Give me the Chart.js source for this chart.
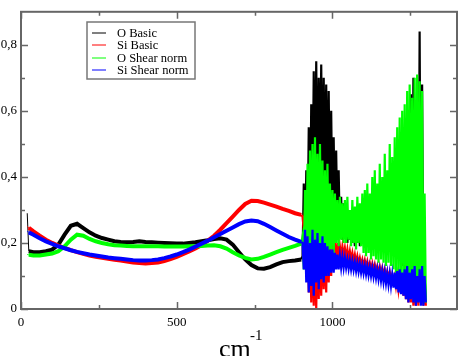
<!DOCTYPE html>
<html>
<head>
<meta charset="utf-8">
<script src="https://cdn.jsdelivr.net/npm/chart.js@4.4.0/dist/chart.umd.min.js"></script>
<style>
html, body { margin: 0; padding: 0; background: #fff; }
#wrap { width: 463px; height: 356px; }
</style>
</head>
<body>
<div id="wrap"><canvas id="spectrum" width="463" height="356"></canvas></div>
<script>
// ===== data =====
// smooth part, 20..900 cm-1
const smoothX = [20, 25, 40, 60, 80, 100, 120, 140, 160, 180, 200, 220, 240, 260, 280, 300, 320, 340, 360, 380,
    400, 420, 440, 460, 480, 500, 520, 540, 560, 580, 600, 620, 640, 660, 680, 700, 720, 740, 760, 780,
    800, 820, 840, 860, 880, 900];
// noisy part, 904..1300 cm-1 every 4 cm-1
const noisyX = Array.from({ length: 100 }, (_, k) => 904 + 4 * k);

const oBasicSmooth = [0.29, 0.175, 0.172, 0.172, 0.175, 0.18, 0.195, 0.225, 0.252, 0.258, 0.245, 0.232, 0.222, 0.215, 0.21, 0.205,
    0.203, 0.202, 0.203, 0.205, 0.203, 0.202, 0.201, 0.2, 0.199, 0.198, 0.198, 0.2, 0.202, 0.205, 0.208, 0.212,
    0.214, 0.21, 0.195, 0.172, 0.15, 0.133, 0.123, 0.122, 0.127, 0.135, 0.142, 0.145, 0.147, 0.15];
const oBasicNoisy = [0.16, 0.38, 0.14, 0.42, 0.2, 0.55, 0.25, 0.62, 0.3, 0.72,
    0.35, 0.75, 0.3, 0.7, 0.4, 0.74, 0.35, 0.7, 0.38, 0.68,
    0.32, 0.66, 0.3, 0.6, 0.28, 0.52, 0.25, 0.48, 0.24, 0.42,
    0.22, 0.34, 0.21, 0.32, 0.22, 0.3, 0.2, 0.27, 0.21, 0.26,
    0.2, 0.25, 0.19, 0.26, 0.2, 0.27, 0.19, 0.24, 0.2, 0.25,
    0.19, 0.26, 0.2, 0.25, 0.19, 0.27, 0.2, 0.24, 0.19, 0.26,
    0.2, 0.25, 0.18, 0.27, 0.19, 0.26, 0.2, 0.28, 0.18, 0.26,
    0.19, 0.29, 0.18, 0.27, 0.19, 0.28, 0.16, 0.3, 0.15, 0.35,
    0.13, 0.4, 0.12, 0.45, 0.1, 0.5, 0.09, 0.65, 0.08, 0.7,
    0.55, 0.06, 0.6, 0.05, 0.84, 0.04, 0.68, 0.03, 0.1, 0.02];

const siBasicSmooth = [0.25, 0.246, 0.235, 0.222, 0.21, 0.2, 0.192, 0.185, 0.178, 0.172, 0.167, 0.162, 0.158, 0.155, 0.152, 0.149,
    0.147, 0.144, 0.141, 0.139, 0.138, 0.139, 0.141, 0.145, 0.151, 0.158, 0.166, 0.174, 0.183, 0.194, 0.207, 0.222,
    0.24, 0.26, 0.28, 0.3, 0.318, 0.328, 0.327, 0.322, 0.316, 0.31, 0.303, 0.297, 0.29, 0.285];
const siBasicNoisy = [0.28, 0.24, 0.3, 0.12, 0.26, 0.05, 0.22, 0.02, 0.2, 0.01,
    0.18, 0, 0.22, 0.03, 0.2, 0.04, 0.24, 0.06, 0.2, 0.05,
    0.25, 0.08, 0.22, 0.1, 0.24, 0.12, 0.2, 0.14, 0.2, 0.15,
    0.19, 0.16, 0.19, 0.16, 0.185, 0.155, 0.18, 0.15, 0.175, 0.15,
    0.17, 0.145, 0.165, 0.14, 0.16, 0.138, 0.155, 0.135, 0.15, 0.13,
    0.148, 0.128, 0.145, 0.125, 0.14, 0.12, 0.138, 0.118, 0.135, 0.115,
    0.13, 0.11, 0.128, 0.108, 0.125, 0.105, 0.12, 0.1, 0.115, 0.095,
    0.112, 0.09, 0.105, 0.085, 0.1, 0.07, 0.1, 0.06, 0.095, 0.05,
    0.09, 0.04, 0.09, 0.03, 0.08, 0.02, 0.09, 0.02, 0.08, 0.01,
    0.09, 0.01, 0.12, 0.01, 0.16, 0.02, 0.1, 0.01, 0.08, 0.01];

const oShearSmooth = [0.165, 0.164, 0.162, 0.162, 0.165, 0.168, 0.175, 0.19, 0.21, 0.225, 0.222, 0.212, 0.205, 0.2, 0.196, 0.193,
    0.192, 0.191, 0.19, 0.19, 0.19, 0.19, 0.19, 0.189, 0.189, 0.189, 0.189, 0.19, 0.19, 0.191, 0.192, 0.193,
    0.19, 0.183, 0.172, 0.162, 0.155, 0.15, 0.152, 0.158, 0.165, 0.172, 0.179, 0.185, 0.191, 0.198];
const oShearNoisy = [0.22, 0.12, 0.36, 0.1, 0.44, 0.12, 0.48, 0.14, 0.5, 0.12,
    0.52, 0.15, 0.47, 0.13, 0.5, 0.16, 0.45, 0.14, 0.42, 0.17,
    0.44, 0.15, 0.38, 0.18, 0.36, 0.17, 0.35, 0.2, 0.33, 0.19,
    0.34, 0.21, 0.32, 0.2, 0.33, 0.2, 0.34, 0.21, 0.3, 0.19,
    0.33, 0.2, 0.31, 0.18, 0.34, 0.2, 0.32, 0.19, 0.35, 0.17,
    0.36, 0.16, 0.38, 0.17, 0.35, 0.15, 0.4, 0.16, 0.42, 0.15,
    0.38, 0.14, 0.44, 0.15, 0.4, 0.14, 0.47, 0.13, 0.42, 0.14,
    0.5, 0.13, 0.46, 0.12, 0.52, 0.11, 0.55, 0.1, 0.58, 0.09,
    0.6, 0.08, 0.62, 0.07, 0.66, 0.06, 0.68, 0.05, 0.64, 0.05,
    0.7, 0.04, 0.71, 0.03, 0.69, 0.03, 0.66, 0.02, 0.35, 0.02];

const siShearSmooth = [0.235, 0.232, 0.225, 0.214, 0.205, 0.197, 0.19, 0.184, 0.178, 0.173, 0.169, 0.165, 0.162, 0.159, 0.156, 0.154,
    0.152, 0.15, 0.148, 0.147, 0.147, 0.148, 0.15, 0.154, 0.159, 0.165, 0.172, 0.18, 0.189, 0.198, 0.207, 0.217,
    0.227, 0.237, 0.247, 0.257, 0.265, 0.268, 0.266, 0.258, 0.248, 0.238, 0.228, 0.218, 0.21, 0.203];
const siShearNoisy = [0.2, 0.12, 0.24, 0.08, 0.22, 0.05, 0.2, 0.07, 0.24, 0.04,
    0.21, 0.08, 0.23, 0.06, 0.2, 0.09, 0.22, 0.08, 0.2, 0.1,
    0.19, 0.1, 0.18, 0.11, 0.18, 0.11, 0.17, 0.12, 0.165, 0.12,
    0.16, 0.125, 0.158, 0.125, 0.155, 0.125, 0.15, 0.122, 0.148, 0.12,
    0.145, 0.118, 0.142, 0.115, 0.14, 0.113, 0.137, 0.11, 0.134, 0.108,
    0.132, 0.105, 0.13, 0.102, 0.127, 0.1, 0.125, 0.097, 0.122, 0.094,
    0.12, 0.09, 0.118, 0.086, 0.115, 0.082, 0.112, 0.078, 0.108, 0.074,
    0.106, 0.07, 0.105, 0.065, 0.11, 0.06, 0.115, 0.05, 0.12, 0.045,
    0.11, 0.04, 0.12, 0.03, 0.13, 0.02, 0.11, 0.03, 0.12, 0.02,
    0.13, 0.01, 0.1, 0.02, 0.12, 0.01, 0.13, 0.01, 0.1, 0.02];

const xTicks = [0, 250, 500, 750, 1000, 1250];
const yTicks = [0, 0.1, 0.2, 0.3, 0.4, 0.5, 0.6, 0.7, 0.8];

// ===== helpers =====
const allX = smoothX.concat(noisyX);
function toPoints(smooth, noisy) {
    const ys = smooth.concat(noisy);
    return allX.map((x, i) => ({ x: x, y: ys[i] }));
}

function makeSet(label, color, smooth, noisy, order) {
    return {
        label: label,
        data: toPoints(smooth, noisy),
        borderColor: color,
        backgroundColor: color,
        pointRadius: 0,
        tension: 0,
        order: order,
        segment: {
            // thick band where the signal is calm, spikes where it is noisy
            borderWidth: c => c.p0DataIndex === 0 ? 1 : (c.p0.parsed.x >= 900 ? 2.2 : 4)
        }
    };
}

// ===== frame with inward ticks =====
const frameTicks = {
    id: 'frameTicks',
    afterDatasetsDraw(chart) {
        const { ctx, chartArea: a, scales: { x, y } } = chart;
        ctx.save();
        ctx.strokeStyle = '#666';
        ctx.lineWidth = 1.5;
        ctx.beginPath();
        xTicks.forEach(v => {
            const px = Math.round(x.getPixelForValue(v)) + 0.5;
            const len = v % 500 === 0 ? 7 : 4;
            ctx.moveTo(px, a.bottom); ctx.lineTo(px, a.bottom - len);
            ctx.moveTo(px, a.top); ctx.lineTo(px, a.top + len);
        });
        yTicks.forEach(v => {
            const py = Math.round(y.getPixelForValue(v)) + 0.5;
            const len = Math.round(v * 10) % 2 === 0 ? 7 : 4;
            ctx.moveTo(a.left, py); ctx.lineTo(a.left + len, py);
            ctx.moveTo(a.right, py); ctx.lineTo(a.right - len, py);
        });
        ctx.stroke();
        ctx.lineWidth = 2;
        ctx.strokeRect(a.left, a.top, a.right - a.left, a.bottom - a.top);
        ctx.restore();
    }
};

// ===== legend box inside the plot =====
const boxLegend = {
    id: 'boxLegend',
    afterDraw(chart) {
        const ctx = chart.ctx;
        ctx.save();
        ctx.fillStyle = '#fff';
        ctx.fillRect(87, 22, 108, 57);
        ctx.strokeStyle = '#777';
        ctx.lineWidth = 1.5;
        ctx.strokeRect(87, 22, 108, 57);
        ctx.font = '12.5px "Liberation Serif", "Times New Roman", serif';
        ctx.textBaseline = 'middle';
        chart.data.datasets.forEach((ds, i) => {
            const yy = 33 + i * 12.4;
            ctx.strokeStyle = ds.borderColor;
            ctx.lineWidth = 1;
            ctx.beginPath();
            ctx.moveTo(92, Math.round(yy));
            ctx.lineTo(106, Math.round(yy));
            ctx.stroke();
            ctx.fillStyle = '#000';
            ctx.fillText(ds.label, 117, yy + 0.5);
        });
        ctx.restore();
    }
};

// ===== x axis title cm^-1 =====
const unitTitle = {
    id: 'unitTitle',
    afterDraw(chart) {
        const ctx = chart.ctx;
        ctx.save();
        ctx.fillStyle = '#000';
        ctx.textBaseline = 'alphabetic';
        ctx.font = '26px "Liberation Serif", "Times New Roman", serif';
        ctx.fillText('cm', 219, 357);
        ctx.font = '15px "Liberation Serif", "Times New Roman", serif';
        ctx.fillText('-1', 250, 340);
        ctx.restore();
    }
};

const tickFont = { family: '"Liberation Serif", "Times New Roman", serif', size: 13 };

new Chart(document.getElementById('spectrum'), {
    type: 'line',
    data: {
        datasets: [
            makeSet('O Basic', '#000000', oBasicSmooth, oBasicNoisy, 4),
            makeSet('Si Basic', '#ff0000', siBasicSmooth, siBasicNoisy, 3),
            makeSet('O Shear norm', '#00ff00', oShearSmooth, oShearNoisy, 2),
            makeSet('Si Shear norm', '#0000ff', siShearSmooth, siShearNoisy, 1)
        ]
    },
    options: {
        responsive: false,
        animation: false,
        devicePixelRatio: 1,
        layout: { padding: { top: 1, right: 1, left: 0, bottom: 0 } },
        plugins: {
            legend: { display: false },
            tooltip: { enabled: false }
        },
        scales: {
            x: {
                type: 'linear',
                min: 0,
                max: 1400,
                grid: { display: false, drawTicks: false },
                border: { display: false },
                afterFit: s => { s.height = 47; },
                ticks: {
                    stepSize: 250,
                    autoSkip: false,
                    maxRotation: 0,
                    padding: 6,
                    color: '#000',
                    font: tickFont,
                    callback: v => (v % 500 === 0 && v <= 1000) ? String(v) : ''
                }
            },
            y: {
                min: 0,
                max: 0.9,
                grid: { display: false, drawTicks: false },
                border: { display: false },
                afterFit: s => { s.width = 21; },
                ticks: {
                    stepSize: 0.1,
                    autoSkip: false,
                    padding: 4,
                    color: '#000',
                    font: tickFont,
                    callback: v => {
                        const r = Math.round(v * 10);
                        return r % 2 === 0 && r <= 8 ? String(r / 10).replace('.', ',') : '';
                    }
                }
            }
        }
    },
    plugins: [frameTicks, boxLegend, unitTitle]
});
</script>
</body>
</html>
